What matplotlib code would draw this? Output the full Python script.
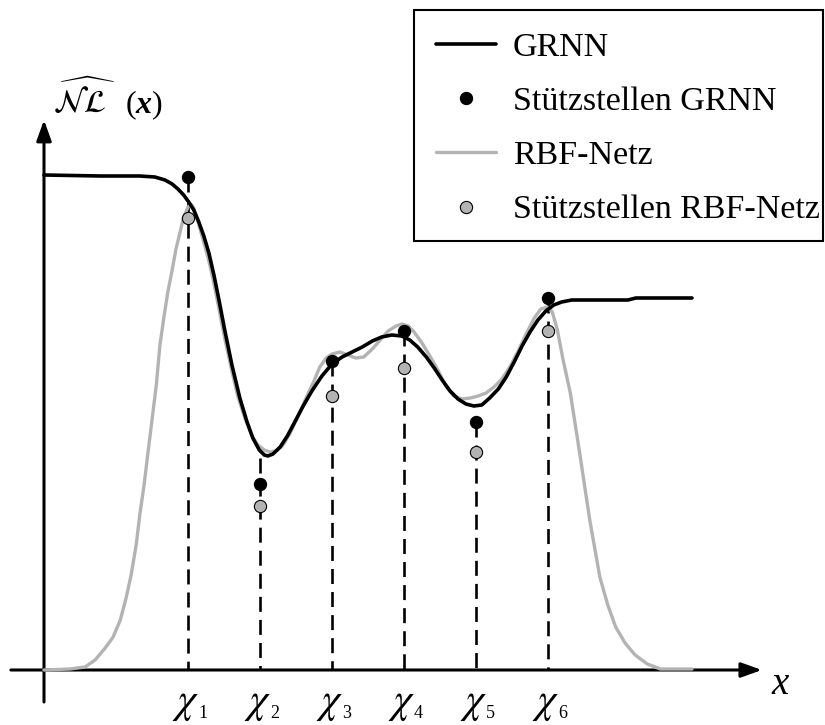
import matplotlib
matplotlib.use("Agg")
import matplotlib.pyplot as plt
from matplotlib.patches import Rectangle

plt.rcParams['font.family'] = ['Liberation Serif', 'DejaVu Serif']
plt.rcParams['lines.scale_dashes'] = False
plt.rcParams['mathtext.it'] = 'Liberation Serif:italic'
plt.rcParams['mathtext.rm'] = 'Liberation Serif'
plt.rcParams['mathtext.bf'] = 'Liberation Serif:italic:bold'

# ---- data (x in units of support-point spacing, y in function units) ----
chi_labels = ['1', '2', '3', '4', '5', '6']
chi_x = [2, 3, 4, 5, 6, 7]
grnn_pts = [4.93, 1.86, 3.09, 3.39, 2.48, 3.72]
rbf_pts = [4.52, 1.64, 2.74, 3.02, 2.18, 3.39]
dash_top = [4.93, 2.12, 3.09, 3.39, 2.48, 3.72]

grnn_x = [0.00, 0.78, 1.33, 1.54, 1.68, 1.78, 1.86, 1.94, 2.01, 2.08,
          2.15, 2.22, 2.29, 2.36, 2.43, 2.51, 2.61, 2.72, 2.82, 2.90,
          2.99, 3.06, 3.11, 3.18, 3.28, 3.38, 3.49, 3.60, 3.72, 3.86,
          4.00, 4.14, 4.28, 4.42, 4.56, 4.69, 4.83, 4.97, 5.08, 5.19,
          5.31, 5.42, 5.53, 5.64, 5.75, 5.86, 5.97, 6.08, 6.19, 6.31,
          6.42, 6.53, 6.64, 6.75, 6.86, 6.97, 7.08, 7.19, 7.33, 7.72,
          8.11, 8.22, 9.00]
grnn_y = [4.95, 4.94, 4.94, 4.93, 4.90, 4.86, 4.81, 4.75, 4.68, 4.60,
          4.48, 4.34, 4.17, 3.95, 3.70, 3.40, 3.05, 2.72, 2.48, 2.32,
          2.20, 2.15, 2.14, 2.16, 2.23, 2.34, 2.49, 2.64, 2.79, 2.94,
          3.06, 3.13, 3.18, 3.23, 3.29, 3.33, 3.35, 3.34, 3.30, 3.23,
          3.13, 3.02, 2.90, 2.79, 2.71, 2.66, 2.64, 2.65, 2.72, 2.81,
          2.93, 3.08, 3.24, 3.38, 3.50, 3.59, 3.65, 3.68, 3.70, 3.70,
          3.70, 3.72, 3.72]

rbf_x = [0.00, 0.36, 0.57, 0.71, 0.85, 0.96, 1.06, 1.14, 1.21, 1.28,
         1.33, 1.39, 1.44, 1.50, 1.56, 1.61, 1.67, 1.72, 1.78, 1.83,
         1.89, 1.94, 2.00, 2.04, 2.08, 2.14, 2.21, 2.28, 2.35, 2.42,
         2.50, 2.60, 2.69, 2.79, 2.89, 2.97, 3.06, 3.14, 3.22, 3.31,
         3.42, 3.53, 3.64, 3.75, 3.83, 3.92, 4.00, 4.11, 4.22, 4.33,
         4.44, 4.56, 4.67, 4.78, 4.89, 4.97, 5.06, 5.14, 5.25, 5.36,
         5.47, 5.58, 5.69, 5.81, 5.92, 6.03, 6.14, 6.25, 6.36, 6.47,
         6.58, 6.69, 6.81, 6.90, 6.99, 7.06, 7.13, 7.21, 7.31, 7.44,
         7.58, 7.72, 7.83, 7.94, 8.07, 8.21, 8.38, 8.56, 9.00]
rbf_y = [0.00, 0.01, 0.03, 0.10, 0.22, 0.33, 0.50, 0.72, 0.95, 1.25,
         1.55, 1.85, 2.15, 2.50, 2.85, 3.25, 3.55, 3.78, 4.00, 4.20,
         4.38, 4.53, 4.63, 4.66, 4.62, 4.48, 4.30, 4.12, 3.90, 3.65,
         3.35, 3.02, 2.74, 2.52, 2.34, 2.25, 2.20, 2.18, 2.19, 2.24,
         2.37, 2.54, 2.72, 2.89, 3.03, 3.12, 3.16, 3.18, 3.15, 3.12,
         3.13, 3.21, 3.30, 3.39, 3.44, 3.46, 3.44, 3.38, 3.27, 3.14,
         3.00, 2.84, 2.74, 2.71, 2.72, 2.74, 2.77, 2.83, 2.91, 3.03,
         3.18, 3.35, 3.52, 3.61, 3.63, 3.58, 3.40, 3.10, 2.77, 2.17,
         1.50, 0.93, 0.65, 0.43, 0.27, 0.15, 0.06, 0.01, 0.01]

BLACK = '#000000'
GRAY = '#b3b3b3'

fig = plt.figure(figsize=(8.25, 7.25), dpi=100)
ax = fig.add_axes([0, 0, 1, 1])
ax.set_xlim(-44 / 72, (825 - 44) / 72)
ax.set_ylim(-0.55, 6.70)
ax.axis('off')

# axes with arrows
arrow_kw = dict(arrowstyle='-|>,head_length=1.25,head_width=0.45',
                mutation_scale=10, lw=2.2, color=BLACK, shrinkA=0, shrinkB=0)
ax.annotate('', xy=(9.97, 0), xytext=(-0.46, 0), arrowprops=arrow_kw, zorder=2)
ax.annotate('', xy=(0, 5.50), xytext=(0, -0.32), arrowprops=arrow_kw, zorder=2)

# dashed verticals
for cx, top in zip(chi_x, dash_top):
    ax.plot([cx, cx], [top, 0], color=BLACK, lw=1.9, dashes=(10.8, 5.8),
            solid_capstyle='butt', zorder=1)

rbf_line, = ax.plot(rbf_x, rbf_y, color=GRAY, lw=2.4, zorder=3,
                    label='RBF-Netz', solid_joinstyle='round',
                    solid_capstyle='round')
grnn_line, = ax.plot(grnn_x, grnn_y, color=BLACK, lw=2.6, zorder=4,
                     label='GRNN', solid_joinstyle='round',
                     solid_capstyle='round')
rbf_mk, = ax.plot(chi_x, rbf_pts, ls='none', marker='o', ms=8.8,
                  mfc=GRAY, mec=BLACK, mew=0.8, zorder=5,
                  label='Stützstellen RBF-Netz')
grnn_mk, = ax.plot(chi_x, grnn_pts, ls='none', marker='o', ms=8.6,
                   mfc=BLACK, mec=BLACK, zorder=5, label='Stützstellen GRNN')

# tick labels chi_k
for cx, lab in zip(chi_x, chi_labels):
    ax.text(cx - 0.04, -0.42, r'$\chi$', fontsize=30, math_fontfamily='stix',
            ha='center', va='baseline')
    ax.text(cx + 0.14, -0.48, lab, fontsize=13, ha='left', va='baseline')

# axis labels
ax.text(10.22, -0.15, 'x', fontsize=28, style='italic', ha='center',
        va='center')
ax.text(0.55, 5.57, r'$\widehat{\mathcal{N}\mathcal{L}}$', fontsize=23,
        math_fontfamily='stix', ha='center', va='baseline')
ax.text(1.12, 5.57, r'$\mathit{(}\mathbf{x}\mathit{)}$', fontsize=23,
        math_fontfamily='custom', ha='left', va='baseline')

leg = ax.legend(handles=[grnn_line, grnn_mk, rbf_line, rbf_mk],
                loc='upper left', bbox_to_anchor=(414 / 825, 1 - 10 / 725),
                bbox_transform=fig.transFigure, borderaxespad=0,
                fontsize=24.5, frameon=False, handlelength=1.76,
                handletextpad=0.5, labelspacing=0.69, borderpad=0.64,
                numpoints=1)
fig.add_artist(Rectangle((414 / 825, 1 - 241 / 725), 409 / 825, 231 / 725,
                         transform=fig.transFigure, fill=False,
                         edgecolor=BLACK, lw=1.5))

fig.savefig('out.png', dpi=100)
